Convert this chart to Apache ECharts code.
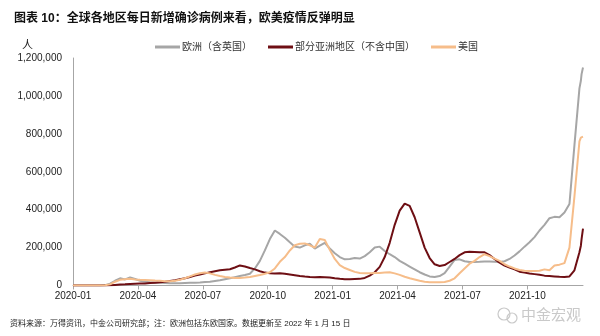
<!DOCTYPE html>
<html>
<head>
<meta charset="utf-8">
<script src="https://cdn.jsdelivr.net/npm/echarts@6/dist/echarts.min.js"></script>
<style>
html,body{margin:0;padding:0;background:#fff;}
#c{width:600px;height:336px;}
</style>
</head>
<body>
<div id="c"></div>
<script>
// x positions: days since 2020-01-22
var days = [0,3,10,17,24,31,38,45,52,59,66,73,80,87,94,101,108,115,122,129,136,143,150,157,164,171,178,185,192,199,206,213,220,227,234,241,248,255,262,269,276,283,290,297,304,311,318,325,332,339,346,353,360,367,374,381,388,395,402,409,416,423,430,437,444,451,458,465,472,479,486,493,500,507,514,521,528,535,542,549,556,563,570,577,584,591,598,605,612,619,626,633,640,647,654,661,668,675,682,689,696,703,710,712,713,715];
// daily new cases, thousands of persons
var europe = [0,0,0,0,0,0,0,2,10,25,38,32,42,34,25,20,17,15,14,13,12,12,12,13,14,15,16,18,20,24,28,33,38,44,50,55,62,90,130,185,245,290,272,252,228,205,200,212,220,195,210,225,195,170,150,138,140,145,142,155,175,200,205,182,165,150,130,115,100,85,70,58,48,45,50,65,100,135,138,128,124,124,125,127,127,125,124,128,140,158,180,205,228,255,290,320,355,362,360,385,430,740,1040,1080,1115,1150];
var asia = [0,0,0,0,0,0,0,0,1,3,5,6,8,9,10,11,13,15,17,20,24,28,33,38,45,52,58,64,70,75,80,83,86,95,106,100,92,85,75,68,65,63,64,62,58,54,50,47,45,44,45,44,42,38,35,33,33,34,35,40,52,70,98,150,225,320,395,432,420,360,280,200,145,112,103,108,124,140,160,175,178,177,176,175,160,140,120,105,95,85,73,68,63,60,57,52,50,48,46,45,48,80,175,210,245,300];
var usa = [0,0,0,0,0,0,0,1,6,20,30,33,35,32,30,29,28,26,25,23,22,25,30,38,48,58,65,68,64,56,50,45,42,40,40,42,45,50,55,62,70,90,125,150,185,212,220,222,212,200,245,240,188,140,108,92,82,72,66,64,64,66,66,68,70,64,56,46,38,32,25,20,17,17,17,18,25,38,65,90,115,130,150,165,155,142,130,112,100,90,82,78,76,76,78,85,80,105,110,118,200,470,760,780,790,785];
var tickDays = [0,91,182,273,364,455,546,637];
var tickLabels = ['2020-01','2020-04','2020-07','2020-10','2021-01','2021-04','2021-07','2021-10'];
var seriesNames = ['欧洲（含英国）','部分亚洲地区（不含中国）','美国'];

var FONT = '"Liberation Sans", Arial, "Noto Sans CJK SC", sans-serif';
function pairs(vals){ return days.map(function(d,i){ return [d, vals[i]*1000]; }); }

var chart = echarts.init(document.getElementById('c'), null, {renderer:'canvas'});
chart.setOption({
  animation:false,
  backgroundColor:'#fff',
  textStyle:{fontFamily:FONT},
  title:{
    text:'图表 10：全球各地区每日新增确诊病例来看，欧美疫情反弹明显',
    left:9, top:8,
    textStyle:{fontSize:12, fontWeight:'bold', color:'#111', fontFamily:FONT}
  },
  legend:{
    left:150, top:37,
    itemWidth:25, itemHeight:3, itemGap:16,
    icon:'rect',
    textStyle:{fontSize:10, color:'#333', fontFamily:FONT, padding:[0,0,0,-3]},
    data:seriesNames
  },
  grid:{left:73, right:17, top:58, bottom:50.5},
  xAxis:{
    type:'value', min:0, max:715,
    axisLine:{show:true, lineStyle:{color:'#A6A6A6', width:1}},
    axisTick:{show:true, length:4, customValues:tickDays, lineStyle:{color:'#A6A6A6'}},
    axisLabel:{customValues:tickDays, margin:6, fontSize:10, color:'#222', fontFamily:FONT,
      formatter:function(v){ var i = tickDays.indexOf(v); return i>=0 ? tickLabels[i] : ''; }},
    splitLine:{show:false}
  },
  yAxis:{
    type:'value', min:0, max:1200000, interval:200000,
    axisLine:{show:true, lineStyle:{color:'#A6A6A6', width:1}},
    axisTick:{show:false},
    axisLabel:{margin:11, fontSize:10, color:'#222', fontFamily:FONT,
      formatter:function(v){ return v.toLocaleString('en-US'); }},
    splitLine:{show:false}
  },
  series:[
    {name:seriesNames[0], type:'line', data:pairs(europe), showSymbol:false, smooth:false,
      lineStyle:{width:2, color:'#A6A6A6'}, itemStyle:{color:'#A6A6A6'}},
    {name:seriesNames[1], type:'line', data:pairs(asia), showSymbol:false, smooth:false,
      lineStyle:{width:2, color:'#6E0F14'}, itemStyle:{color:'#6E0F14'}},
    {name:seriesNames[2], type:'line', data:pairs(usa), showSymbol:false, smooth:false,
      lineStyle:{width:2, color:'#F6BD8A'}, itemStyle:{color:'#F6BD8A'}}
  ],
  graphic:[
    {type:'text', left:22, top:40, style:{text:'人', fontSize:11, fill:'#222', fontFamily:FONT}},
    {type:'text', left:10, top:320, style:{text:'资料来源：万得资讯，中金公司研究部；注：欧洲包括东欧国家。数据更新至 2022 年 1 月 15 日', fontSize:8, fill:'#222', fontFamily:FONT}},
    {type:'circle', shape:{cx:504, cy:314, r:6}, style:{fill:'none', stroke:'#C9C9C9', lineWidth:1.2}},
    {type:'circle', shape:{cx:512, cy:318, r:5}, style:{fill:'none', stroke:'#C9C9C9', lineWidth:1.2}},
    {type:'text', left:521, top:307, style:{text:'中金宏观', fontSize:15, fill:'#C9C9C9', fontFamily:'"Noto Sans CJK SC", sans-serif'}}
  ]
});
</script>
</body>
</html>
